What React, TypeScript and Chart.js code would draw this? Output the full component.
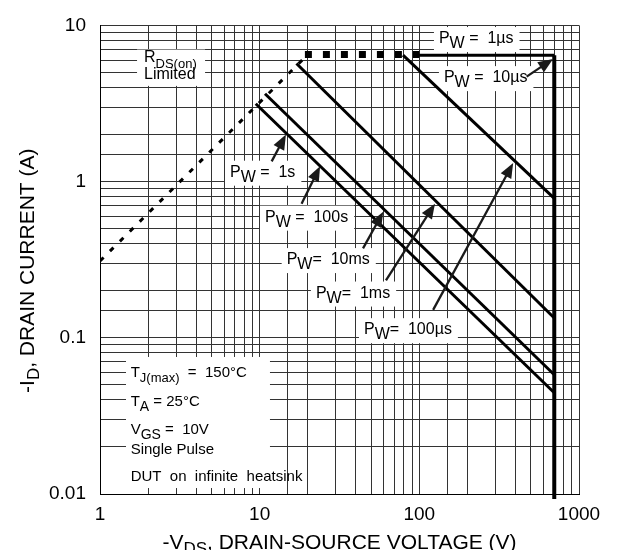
import React, { useEffect, useRef } from 'react';
import { Chart, registerables } from 'chart.js';

Chart.register(...registerables);

const FONT = '"Liberation Sans", Arial, Helvetica, sans-serif';

// ---- axes ----
const xMin = 1;
const xMax = 1000;
const yMin = 0.01;
const yMax = 10;
const xTickLabels = [1, 10, 100, 1000];
const yTickLabels = [0.01, 0.1, 1, 10];

// ---- series (V in volts, I in amps) ----
const rdsLimitV = [1, 20];
const rdsLimitI = [0.31, 6.5];
const rdsFlatV = [19.2, 100];
const rdsFlatI = [6.5, 6.5];
const pw1usV = [96, 700];
const pw1usI = [6.45, 6.45];
const vdssV = [700, 700];
const vdssI = [6.45, 0.0093];
const pw100usV = [79, 700];
const pw100usI = [6.45, 0.78];
const pw1msV = [17, 700];
const pw1msI = [5.7, 0.134];
const pw10msV = [10.8, 700];
const pw10msI = [3.65, 0.058];
const pwDcV = [9.45, 700];
const pwDcI = [3.15, 0.0445];

// ---- annotations (data coordinates) ----
type Part = { t: string; s?: boolean };
type Label = { parts: Part[]; x: number; y: number; size: number; sub: number; dy: number };

const pwLabels: Label[] = [
  { parts: [{ t: 'P' }, { t: 'W', s: true }, { t: ' =  1µs' }], x: 132.7, y: 7.71, size: 16, sub: 16, dy: 5 },
  { parts: [{ t: 'P' }, { t: 'W', s: true }, { t: ' =  10µs' }], x: 142.6, y: 4.334, size: 16, sub: 16, dy: 5 },
  { parts: [{ t: 'P' }, { t: 'W', s: true }, { t: ' =  1s' }], x: 6.52, y: 1.075, size: 16, sub: 16, dy: 5 },
  { parts: [{ t: 'P' }, { t: 'W', s: true }, { t: ' =  100s' }], x: 10.8, y: 0.554, size: 16, sub: 16, dy: 5 },
  { parts: [{ t: 'P' }, { t: 'W', s: true }, { t: '=  10ms' }], x: 14.76, y: 0.2965, size: 16, sub: 16, dy: 5 },
  { parts: [{ t: 'P' }, { t: 'W', s: true }, { t: '=  1ms' }], x: 22.5, y: 0.181, size: 16, sub: 16, dy: 5 },
  { parts: [{ t: 'P' }, { t: 'W', s: true }, { t: '=  100µs' }], x: 45.0, y: 0.1055, size: 16, sub: 16, dy: 5 },
];

const rdsLabels: Label[] = [
  { parts: [{ t: 'R' }, { t: 'DS(on)', s: true }], x: 1.886, y: 5.84, size: 16, sub: 13, dy: 6 },
  { parts: [{ t: 'Limited' }], x: 1.886, y: 4.545, size: 16, sub: 13, dy: 6 },
];
const rdsBox = { x0: 1.706, x1: 4.55, y0: 7.0, y1: 4.1 };

const condLabels: Label[] = [
  { parts: [{ t: 'T' }, { t: 'J(max)', s: true }, { t: '  =  150°C' }], x: 1.556, y: 0.0565, size: 15, sub: 13, dy: 5 },
  { parts: [{ t: 'T' }, { t: 'A', s: true }, { t: ' = 25°C' }], x: 1.556, y: 0.03666, size: 15, sub: 14, dy: 5 },
  { parts: [{ t: 'V' }, { t: 'GS', s: true }, { t: ' =  10V' }], x: 1.556, y: 0.02438, size: 15, sub: 14, dy: 5 },
  { parts: [{ t: 'Single Pulse' }], x: 1.556, y: 0.01809, size: 15, sub: 14, dy: 5 },
  { parts: [{ t: 'DUT  on  infinite  heatsink' }], x: 1.556, y: 0.01203, size: 15, sub: 14, dy: 5 },
];
const condBox = { x0: 1.455, x1: 11.6, y0: 0.0754, y1: 0.01092 };

// arrows: tail -> tip
const arrowFromV = [470, 122, 61.8, 44.4, 18.3, 11.89];
const arrowFromI = [4.7, 0.151, 0.233, 0.3735, 0.722, 1.348];
const arrowToV = [688, 387, 125.3, 59.4, 23.9, 14.61];
const arrowToI = [6.1, 1.315, 0.722, 0.64, 1.254, 2.0];

const xTitle: Part[] = [{ t: '-V' }, { t: 'DS', s: true }, { t: ', DRAIN-SOURCE VOLTAGE (V)' }];
const yTitle: Part[] = [{ t: '-I' }, { t: 'D', s: true }, { t: ', DRAIN CURRENT (A)' }];

function pts(xs: number[], ys: number[]) {
  return xs.map((x, i) => ({ x, y: ys[i] }));
}

function richWidth(ctx: CanvasRenderingContext2D, parts: Part[], size: number, sub: number) {
  let w = 0;
  for (const p of parts) {
    ctx.font = `${p.s ? sub : size}px ${FONT}`;
    w += ctx.measureText(p.t).width;
  }
  return w;
}

function drawRich(ctx: CanvasRenderingContext2D, parts: Part[], x: number, y: number, size: number, sub: number, dy: number) {
  let cx = x;
  ctx.textBaseline = 'alphabetic';
  ctx.textAlign = 'left';
  for (const p of parts) {
    ctx.font = `${p.s ? sub : size}px ${FONT}`;
    ctx.fillText(p.t, cx, y + (p.s ? dy : 0));
    cx += ctx.measureText(p.t).width;
  }
}

const annotPlugin = {
  id: 'annot',
  beforeDatasetsDraw(chart: any) {
    const ctx: CanvasRenderingContext2D = chart.ctx;
    const xs = chart.scales.x;
    const ys = chart.scales.y;
    ctx.save();
    ctx.fillStyle = '#fff';
    for (const l of pwLabels) {
      const w = richWidth(ctx, l.parts, l.size, l.sub);
      const px = xs.getPixelForValue(l.x);
      const py = ys.getPixelForValue(l.y);
      ctx.fillRect(px - 5, py - 16, w + 11, 25);
    }
    const boxes = [rdsBox, condBox];
    for (const b of boxes) {
      const x0 = xs.getPixelForValue(b.x0);
      const x1 = xs.getPixelForValue(b.x1);
      const y0 = ys.getPixelForValue(b.y0);
      const y1 = ys.getPixelForValue(b.y1);
      ctx.fillRect(x0, y0, x1 - x0, y1 - y0);
    }
    ctx.restore();
  },
  afterDatasetsDraw(chart: any) {
    const ctx: CanvasRenderingContext2D = chart.ctx;
    const xs = chart.scales.x;
    const ys = chart.scales.y;
    ctx.save();
    ctx.fillStyle = '#000';
    for (const l of [...pwLabels, ...rdsLabels, ...condLabels]) {
      drawRich(ctx, l.parts, xs.getPixelForValue(l.x), ys.getPixelForValue(l.y), l.size, l.sub, l.dy);
    }
    // arrows
    ctx.strokeStyle = '#1a1a1a';
    ctx.fillStyle = '#1a1a1a';
    ctx.lineWidth = 2.3;
    for (let i = 0; i < arrowFromV.length; i++) {
      const x0 = xs.getPixelForValue(arrowFromV[i]);
      const y0 = ys.getPixelForValue(arrowFromI[i]);
      const x1 = xs.getPixelForValue(arrowToV[i]);
      const y1 = ys.getPixelForValue(arrowToI[i]);
      const a = Math.atan2(y1 - y0, x1 - x0);
      const hl = 15;
      const hw = 6;
      const bx = x1 - hl * Math.cos(a);
      const by = y1 - hl * Math.sin(a);
      ctx.beginPath();
      ctx.moveTo(x0, y0);
      ctx.lineTo(bx + 2 * Math.cos(a), by + 2 * Math.sin(a));
      ctx.stroke();
      ctx.beginPath();
      ctx.moveTo(x1, y1);
      ctx.lineTo(bx + hw * Math.sin(a), by - hw * Math.cos(a));
      ctx.lineTo(bx - hw * Math.sin(a), by + hw * Math.cos(a));
      ctx.closePath();
      ctx.fill();
    }
    ctx.restore();
  },
  afterDraw(chart: any) {
    const ctx: CanvasRenderingContext2D = chart.ctx;
    const ca = chart.chartArea;
    ctx.save();
    ctx.fillStyle = '#000';
    const tw = richWidth(ctx, xTitle, 21, 17);
    drawRich(ctx, xTitle, (ca.left + ca.right) / 2 - tw / 2, 549, 21, 17, 5);
    const yw = richWidth(ctx, yTitle, 21, 17);
    ctx.translate(34, (ca.top + ca.bottom) / 2 + 11);
    ctx.rotate(-Math.PI / 2);
    drawRich(ctx, yTitle, -yw / 2, 0, 21, 17, 5);
    ctx.restore();
  },
};

function fmt(v: number, list: number[]) {
  const hit = list.find((l) => Math.abs(v - l) / l < 1e-6);
  return hit === undefined ? '' : String(hit);
}

export default function App() {
  const ref = useRef<HTMLCanvasElement | null>(null);
  useEffect(() => {
    if (!ref.current) return;
    const line = (data: any, width: number, dash: number[] = [], extra: any = {}) => ({
      data,
      showLine: true,
      borderColor: '#000',
      borderWidth: width,
      borderDash: dash,
      borderCapStyle: 'butt',
      pointRadius: 0,
      fill: false,
      tension: 0,
      ...extra,
    });
    const chart = new Chart(ref.current, {
      type: 'scatter',
      data: {
        datasets: [
          line(pts(rdsLimitV, rdsLimitI), 3, [5, 9]),
          line(pts(rdsFlatV, rdsFlatI), 7, [7, 11]),
          line(pts(pw1usV, pw1usI), 3),
          line(pts(vdssV, vdssI), 4, [], { clip: false }),
          line(pts(pw100usV, pw100usI), 3),
          line(pts(pw1msV, pw1msI), 3),
          line(pts(pw10msV, pw10msI), 3),
          line(pts(pwDcV, pwDcI), 3),
        ] as any,
      },
      options: {
        animation: false,
        responsive: false,
        maintainAspectRatio: false,
        layout: { padding: { top: 16, right: 42, left: 0, bottom: 0 } },
        plugins: { legend: { display: false }, tooltip: { enabled: false } },
        scales: {
          x: {
            type: 'logarithmic',
            min: xMin,
            max: xMax,
            position: 'bottom',
            grid: { color: '#333', lineWidth: 1, drawTicks: false },
            border: { display: true, color: '#000', width: 1 },
            ticks: {
              autoSkip: false,
              maxRotation: 0,
              minRotation: 0,
              padding: 9,
              color: '#000',
              font: { family: FONT, size: 19 },
              callback: (v: any) => fmt(Number(v), xTickLabels),
            },
            afterFit: (s: any) => {
              s.height = 56;
            },
          },
          y: {
            type: 'logarithmic',
            min: yMin,
            max: yMax,
            position: 'left',
            grid: { color: '#333', lineWidth: 1, drawTicks: false },
            border: { display: true, color: '#000', width: 1 },
            ticks: {
              autoSkip: false,
              padding: 14,
              color: '#000',
              font: { family: FONT, size: 19 },
              callback: (v: any) => fmt(Number(v), yTickLabels),
            },
            afterFit: (s: any) => {
              s.width = 100;
            },
          },
        },
      } as any,
      plugins: [annotPlugin],
    });
    return () => chart.destroy();
  }, []);
  return (
    <div style={{ position: 'fixed', left: 0, top: 0, width: 621, height: 550, background: '#fff' }}>
      <canvas ref={ref} width={621} height={550} style={{ display: 'block' }} />
    </div>
  );
}
